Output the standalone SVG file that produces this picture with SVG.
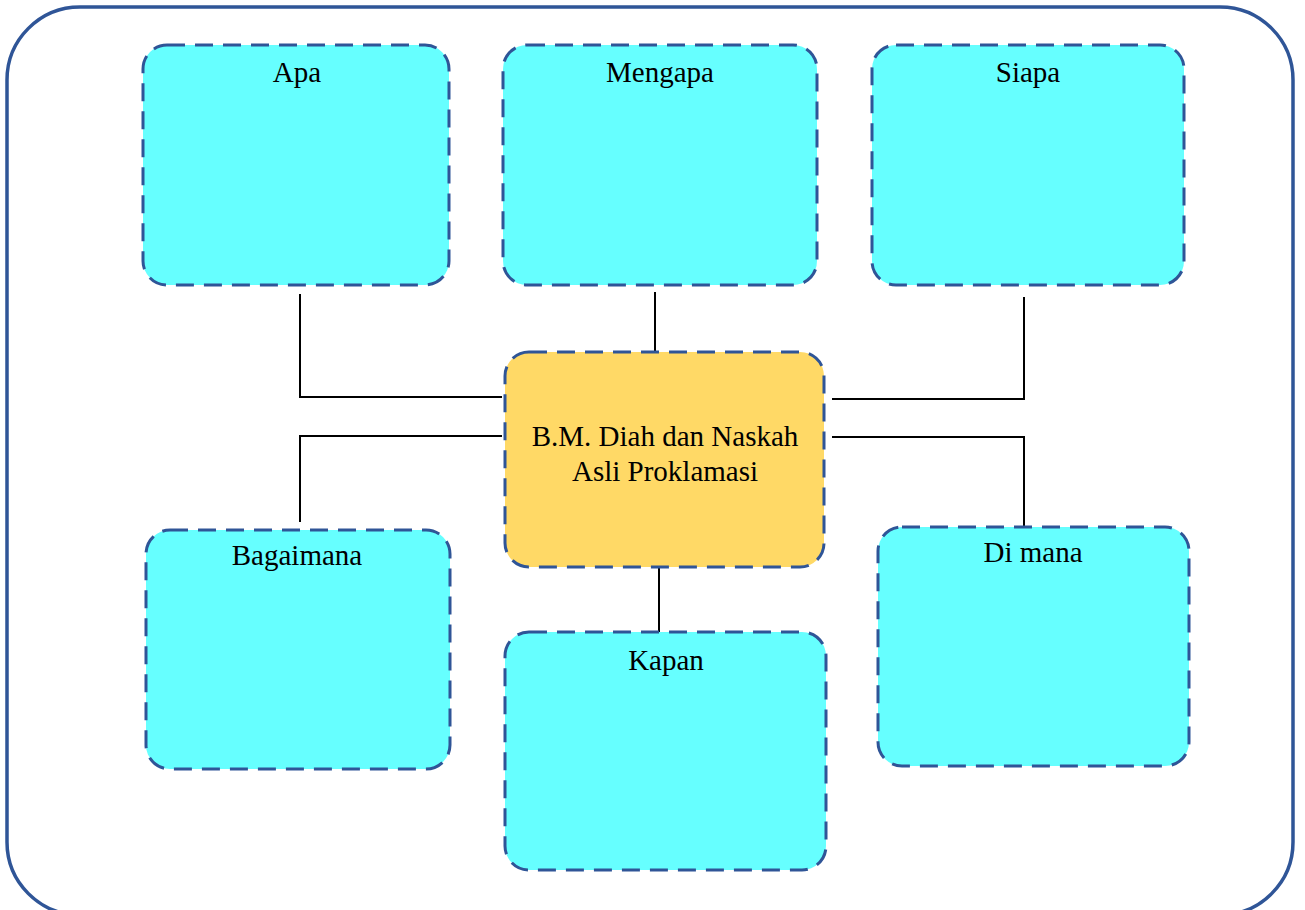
<svg xmlns="http://www.w3.org/2000/svg" width="1305" height="910" viewBox="0 0 1305 910">
<style>
.node{fill:#66FFFF;stroke:#2F5597;stroke-width:3;stroke-dasharray:18 10}
.center{fill:#FFD966;stroke:#2F5597;stroke-width:3;stroke-dasharray:18 10}
.lbl{font-family:"Liberation Serif","Times New Roman",serif;font-size:29px;fill:#000;text-anchor:middle}
.conn{fill:none;stroke:#000;stroke-width:2}
</style>
<rect width="1305" height="910" fill="#fff"/>
<rect id="frame" x="7" y="7" width="1286" height="908" rx="73" ry="73" fill="none" stroke="#2F5597" stroke-width="3.5"/>
<g id="connectors">
<polyline class="conn" points="300,294 300,397 502,397"/>
<line class="conn" x1="655" y1="292" x2="655" y2="352"/>
<polyline class="conn" points="1024,297 1024,399 832,399"/>
<polyline class="conn" points="502,436 300,436 300,522"/>
<polyline class="conn" points="832,437 1024,437 1024,526"/>
<line class="conn" x1="659" y1="567" x2="659" y2="632"/>
</g>
<g id="apa"><rect class="node" x="143" y="45" width="306" height="240" rx="24"/><text class="lbl" x="297" y="82">Apa</text></g>
<g id="mengapa"><rect class="node" x="503" y="45" width="314" height="240" rx="24"/><text class="lbl" x="660" y="82">Mengapa</text></g>
<g id="siapa"><rect class="node" x="872" y="45" width="312" height="240" rx="24"/><text class="lbl" x="1028" y="82">Siapa</text></g>
<g id="center"><rect class="center" x="505" y="352" width="319" height="215" rx="24"/><text class="lbl" x="665" y="446">B.M. Diah dan Naskah</text><text class="lbl" x="665" y="481">Asli Proklamasi</text></g>
<g id="bagaimana"><rect class="node" x="146" y="530" width="304" height="239" rx="24"/><text class="lbl" x="297" y="565">Bagaimana</text></g>
<g id="kapan"><rect class="node" x="505" y="632" width="321" height="238" rx="24"/><text class="lbl" x="666" y="670">Kapan</text></g>
<g id="dimana"><rect class="node" x="878" y="527" width="311" height="239" rx="24"/><text class="lbl" x="1033" y="562">Di mana</text></g>
</svg>
